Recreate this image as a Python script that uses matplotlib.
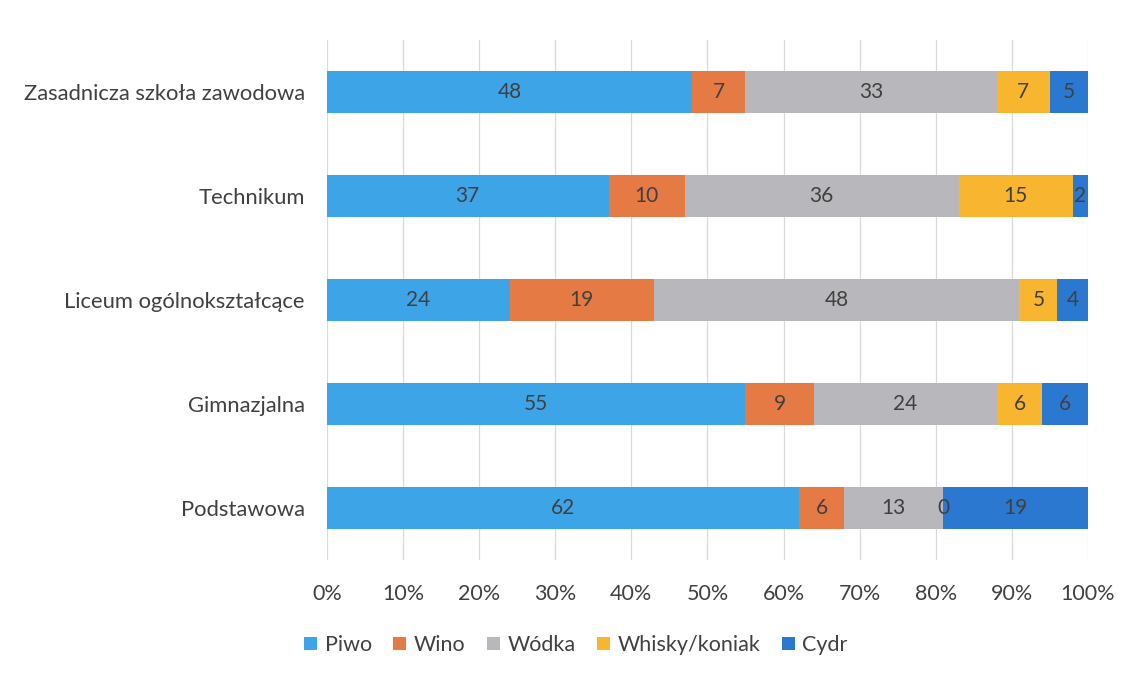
import matplotlib
matplotlib.use("Agg")
import matplotlib.pyplot as plt
import numpy as np

categories = [
    "Zasadnicza szkoła zawodowa",
    "Technikum",
    "Liceum ogólnokształcące",
    "Gimnazjalna",
    "Podstawowa",
]
series_names = ["Piwo", "Wino", "Wódka", "Whisky/koniak", "Cydr"]
piwo = [48, 37, 24, 55, 62]
wino = [7, 10, 19, 9, 6]
wodka = [33, 36, 48, 24, 13]
whisky = [7, 15, 5, 6, 0]
cydr = [5, 2, 4, 6, 19]
colors = ["#3ea4e8", "#e67a45", "#b8b8bc", "#f8b630", "#2b78d0"]

plt.rcParams["font.family"] = ["Lato", "DejaVu Sans"]
text_color = "#404040"

fig = plt.figure(figsize=(11.38, 6.74), dpi=100)
ax = fig.add_axes([0.2873, 0.169, 0.6687, 0.772])

values = np.array([piwo, wino, wodka, whisky, cydr], dtype=float)
totals = values.sum(axis=0)
y = np.arange(len(categories))
left = np.zeros(len(categories))
for name, vals, color in zip(series_names, values, colors):
    share = vals / totals
    bars = ax.barh(y, share, left=left, height=0.4, color=color, label=name, zorder=3)
    for b, v in zip(bars, vals):
        ax.text(
            b.get_x() + b.get_width() / 2,
            b.get_y() + b.get_height() / 2,
            f"{int(v)}",
            ha="center",
            va="center",
            fontsize=15,
            color=text_color,
            zorder=4,
        )
    left += share

ax.set_ylim(len(categories) - 0.5, -0.5)
ax.set_xlim(0, 1)
ax.set_yticks(y)
ax.set_yticklabels(categories, fontsize=15.8, color=text_color)
ticks = np.linspace(0, 1, 11)
ax.set_xticks(ticks)
ax.set_xticklabels([f"{int(round(t * 100))}%" for t in ticks], fontsize=15.5, color=text_color)
ax.tick_params(axis="both", length=0)
ax.tick_params(axis="x", pad=17)
ax.tick_params(axis="y", pad=16)
ax.grid(axis="x", color="#d9d9d9", linewidth=0.9, zorder=0)
for s in ax.spines.values():
    s.set_visible(False)

handles, labels = ax.get_legend_handles_labels()
fig.legend(
    handles,
    labels,
    loc="center",
    bbox_to_anchor=(0.506, 0.043),
    ncol=5,
    frameon=False,
    fontsize=15.5,
    handlelength=0.6,
    handleheight=0.6,
    handletextpad=0.35,
    columnspacing=1.0,
    labelcolor=text_color,
)

fig.savefig("out.png", dpi=100)
